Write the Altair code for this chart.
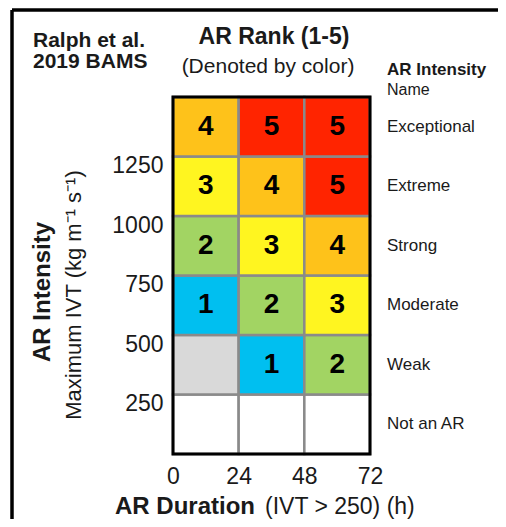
import altair as alt
import pandas as pd

# ---- data ----
dur_starts = [0, 24, 48]
dur_ends = [24, 48, 72]
ivt_starts = [0, 250, 500, 750, 1000, 1250]
ivt_ends = [250, 500, 750, 1000, 1250, 1500]
# rank per cell, rows from bottom (0-250) to top (1250+); "" = not an AR, "-" = AR but no rank
rank_rows = [
    ["", "", ""],
    ["-", "1", "2"],
    ["1", "2", "3"],
    ["2", "3", "4"],
    ["3", "4", "5"],
    ["4", "5", "5"],
]
intensity_names = ["Not an AR", "Weak", "Moderate", "Strong", "Extreme", "Exceptional"]
x_ticks = [0, 24, 48, 72]
y_ticks = [250, 500, 750, 1000, 1250]
rank_keys = ["", "-", "1", "2", "3", "4", "5"]
rank_colors = ["#FFFFFF", "#D9D9D9", "#00BFF0", "#A2D463", "#FFF520", "#FEC21A", "#FF2400"]

FONT = "Liberation Sans"
INK = "#1a1a1a"

rows = []
for i, r in enumerate(rank_rows):
    for j, rk in enumerate(r):
        rows.append({
            "x0": dur_starts[j], "x1": dur_ends[j],
            "y0": ivt_starts[i], "y1": ivt_ends[i],
            "xm": (dur_starts[j] + dur_ends[j]) / 2,
            "ym": (ivt_starts[i] + ivt_ends[i]) / 2,
            "rank": rk,
            "label": rk if rk.isdigit() else "",
        })
cells = pd.DataFrame(rows)

names_df = pd.DataFrame({
    "name": intensity_names,
    "ym": [(a + b) / 2 for a, b in zip(ivt_starts, ivt_ends)],
})
border_df = pd.DataFrame({"x0": [dur_starts[0]], "x1": [dur_ends[-1]],
                          "y0": [ivt_starts[0]], "y1": [ivt_ends[-1]]})

xscale = alt.Scale(domain=[0, 72], nice=False, zero=False)
yscale = alt.Scale(domain=[0, 1500], nice=False, zero=False)

xaxis = alt.Axis(values=x_ticks, ticks=False, domain=False, grid=False, title=None,
                 labelFontSize=23, labelFont=FONT, labelColor=INK, labelPadding=11,
                 labelFlush=False, labelAngle=0, format="d")
yaxis = alt.Axis(values=y_ticks, ticks=False, domain=False, grid=False, title=None,
                 labelFontSize=23, labelFont=FONT, labelColor=INK, labelPadding=10,
                 labelOffset=9, labelBaseline="middle", format="d")

rects = alt.Chart(cells).mark_rect(stroke="#8A8A8A", strokeWidth=2.5).encode(
    x=alt.X("x0:Q", scale=xscale, axis=xaxis),
    x2="x1:Q",
    y=alt.Y("y0:Q", scale=yscale, axis=yaxis),
    y2="y1:Q",
    color=alt.Color("rank:N", scale=alt.Scale(domain=rank_keys, range=rank_colors), legend=None),
)

numbers = alt.Chart(cells).mark_text(
    font=FONT, fontSize=28, fontWeight="bold", color="#000000", baseline="middle"
).encode(x=alt.X("xm:Q", scale=xscale, title=None),
         y=alt.Y("ym:Q", scale=yscale, title=None),
         text="label:N")

border = alt.Chart(border_df).mark_rect(fillOpacity=0, stroke="black", strokeWidth=3).encode(
    x=alt.X("x0:Q", scale=xscale, title=None), x2="x1:Q",
    y=alt.Y("y0:Q", scale=yscale, title=None), y2="y1:Q",
)

names = alt.Chart(names_df).mark_text(
    font=FONT, fontSize=17, color=INK, align="left", baseline="middle"
).encode(x=alt.value(214), y=alt.Y("ym:Q", scale=yscale, title=None), text="name:N")


def annotate(text, x, y, size, weight="normal", align="left", baseline="alphabetic", angle=0):
    return alt.Chart(pd.DataFrame({"t": [text]})).mark_text(
        font=FONT, fontSize=size, fontWeight=weight, color=INK,
        align=align, baseline=baseline, angle=angle,
    ).encode(x=alt.value(x), y=alt.value(y), text="t:N")


texts = [
    annotate("Ralph et al.", -140, -50, 21, "bold"),
    annotate("2019 BAMS", -140, -29, 21, "bold"),
    annotate("AR Rank (1-5)", 101, -53, 23, "bold", align="center"),
    annotate("(Denoted by color)", 95, -24, 21, align="center"),
    annotate("AR Intensity", 214, -22, 17, "bold"),
    annotate("Name", 214, -2, 16),
    annotate("AR Duration", 82, 417, 24, "bold", align="right"),
    annotate("(IVT > 250) (h)", 92, 417, 23),
    annotate("AR Intensity", -130, 195, 24, "bold", align="center", baseline="middle", angle=270),
    annotate("Maximum IVT (kg m\u207b\u00b9 s\u207b\u00b9)", -99, 198, 22, align="center",
             baseline="middle", angle=270),
]

frame_h = alt.Chart(pd.DataFrame({"a": [0]})).mark_rule(color="black", strokeWidth=3.5).encode(
    x=alt.value(-161), x2=alt.value(600), y=alt.value(-87))
frame_v = alt.Chart(pd.DataFrame({"a": [0]})).mark_rule(color="black", strokeWidth=3.5).encode(
    x=alt.value(-161), y=alt.value(-87), y2=alt.value(600))

chart = alt.layer(rects, numbers, border, names, *texts, frame_h, frame_v).properties(
    width=197, height=357,
    autosize=alt.AutoSizeParams(type="none"),
    padding={"left": 165, "top": 89, "right": 128, "bottom": 65},
).configure_view(stroke=None).configure(background="white")

chart.save("out.html", embed_options={"renderer": "svg", "actions": False})
